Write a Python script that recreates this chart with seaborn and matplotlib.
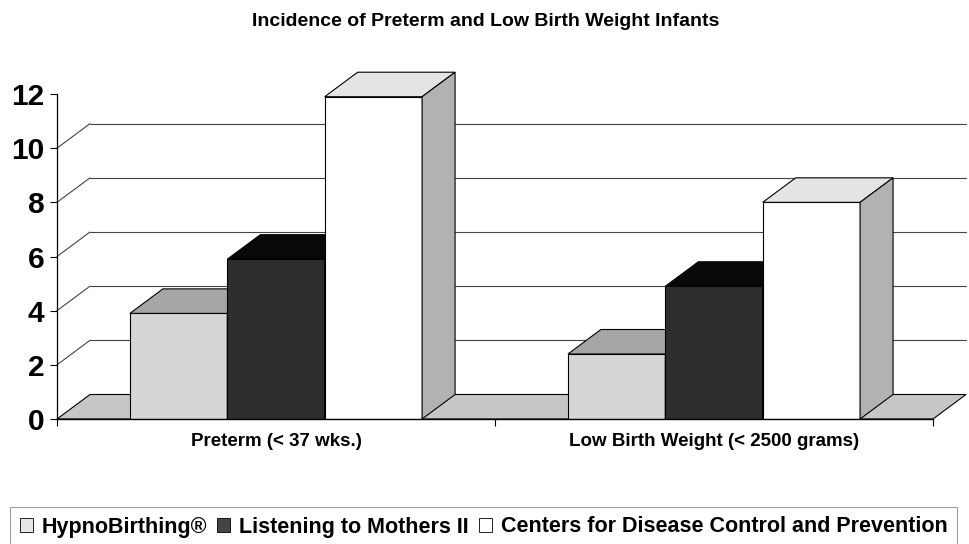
import matplotlib
matplotlib.use("Agg")
import matplotlib.pyplot as plt
from matplotlib.patches import Polygon, Patch
import seaborn as sns
import pandas as pd

categories = ["Preterm (< 37 wks.)", "Low Birth Weight (< 2500 grams)"]
series = ["HypnoBirthing®", "Listening to Mothers II",
          "Centers for Disease Control and Prevention"]
hypno = [3.9, 2.4]
ltm = [5.9, 4.9]
cdc = [11.9, 8.0]
yticks = [0, 2, 4, 6, 8, 10, 12]

front_cols = ["#d6d6d6", "#2e2e2e", "#ffffff"]
top_cols = ["#a6a6a6", "#080808", "#e4e4e4"]
side_cols = ["#9a9a9a", "#1a1a1a", "#b2b2b2"]

rows = []
for s, vals in zip(series, [hypno, ltm, cdc]):
    for c, v in zip(categories, vals):
        rows.append({"category": c, "series": s, "value": v})
df = pd.DataFrame(rows)

sns.set_style("white")
plt.rcParams["font.family"] = ["Liberation Sans", "DejaVu Sans"]
plt.rcParams["text.color"] = "black"
plt.rcParams["xtick.color"] = "black"
plt.rcParams["ytick.color"] = "black"
plt.rcParams["axes.edgecolor"] = "black"

W, H = 969, 544
fig = plt.figure(figsize=(W / 100, H / 100), dpi=100)
ax = fig.add_axes([57 / W, 125 / H, 876 / W, 325 / H])

sns.barplot(data=df, x="category", y="value", hue="series",
            order=categories, hue_order=series, palette=front_cols,
            width=0.667, edgecolor="black", linewidth=0.8,
            saturation=1, legend=False, ax=ax)

ax.set_xlim(-0.5, 1.5)
ax.set_ylim(0, 12)

# depth offset of the fake 3-D look, in data units
dx = 33 / 438
dy = 24.5 / (325 / 12)

# floor
floor = Polygon([(-0.5, 0), (1.5, 0), (1.5 + dx, dy), (-0.5 + dx, dy)],
                closed=True, facecolor="#c6c6c6", edgecolor="black",
                linewidth=0.8, clip_on=False, zorder=0.5)
ax.add_patch(floor)

# back wall grid and left wall diagonals
for v in yticks[1:-1]:
    ax.plot([-0.5 + dx, 1.5 + dx], [v + dy, v + dy], color="#444444",
            lw=0.8, clip_on=False, zorder=0.4)
    ax.plot([-0.5, -0.5 + dx], [v, v + dy], color="#444444",
            lw=0.8, clip_on=False, zorder=0.4)

# tops and sides of the bars
n_cat = len(categories)
for i, bar in enumerate(ax.patches[:len(series) * n_cat]):
    h_idx = i // n_cat
    x0 = bar.get_x()
    x1 = x0 + bar.get_width()
    top = bar.get_height()
    z = 2 + h_idx
    bar.set_zorder(z)
    ax.add_patch(Polygon([(x0, top), (x1, top), (x1 + dx, top + dy),
                          (x0 + dx, top + dy)], closed=True,
                         facecolor=top_cols[h_idx], edgecolor="black",
                         linewidth=0.8, clip_on=False, zorder=z + 0.1))
    ax.add_patch(Polygon([(x1, 0), (x1 + dx, dy), (x1 + dx, top + dy),
                          (x1, top)], closed=True,
                         facecolor=side_cols[h_idx], edgecolor="black",
                         linewidth=0.8, clip_on=False, zorder=z + 0.1))

for sp in ["top", "right"]:
    ax.spines[sp].set_visible(False)
ax.spines["left"].set_linewidth(0.9)
ax.spines["bottom"].set_linewidth(1.0)
ax.spines["left"].set_zorder(6)
ax.spines["bottom"].set_zorder(6)

ax.set_yticks(yticks)
ax.set_yticklabels([str(t) for t in yticks], fontsize=21.5, fontweight="bold")
ax.tick_params(axis="y", direction="out", length=5, width=0.8, pad=4,
               left=True)
ax.set_xticks([0, 1])
ax.set_xticklabels(categories, fontsize=13.5, fontweight="bold")
ax.set_xticks([-0.5, 0.5, 1.5], minor=True)
ax.tick_params(axis="x", which="major", length=0, pad=10)
ax.tick_params(axis="x", which="minor", direction="out", length=5,
               width=0.8, bottom=True)
ax.set_xlabel("")
ax.set_ylabel("")

fig.text(486 / W, 1 - 22 / H, "Incidence of Preterm and Low Birth Weight Infants",
         ha="center", va="center", fontsize=14, fontweight="bold")

handles = [Patch(facecolor=c, edgecolor="black", linewidth=0.6)
           for c in ["#e6e6e6", "#444444", "#ffffff"]]
leg = fig.legend(handles, series, loc="center left",
                 bbox_to_anchor=(10 / W, 1 - 527 / H), ncol=3,
                 frameon=True, fancybox=False, edgecolor="#888888",
                 handlelength=0.6, handleheight=0.6, handletextpad=0.4,
                 columnspacing=0.5, borderpad=0.45, borderaxespad=0,
                 prop={"weight": "bold", "size": 15.5})
leg.get_frame().set_linewidth(0.8)

fig.savefig("out.png", dpi=100)
